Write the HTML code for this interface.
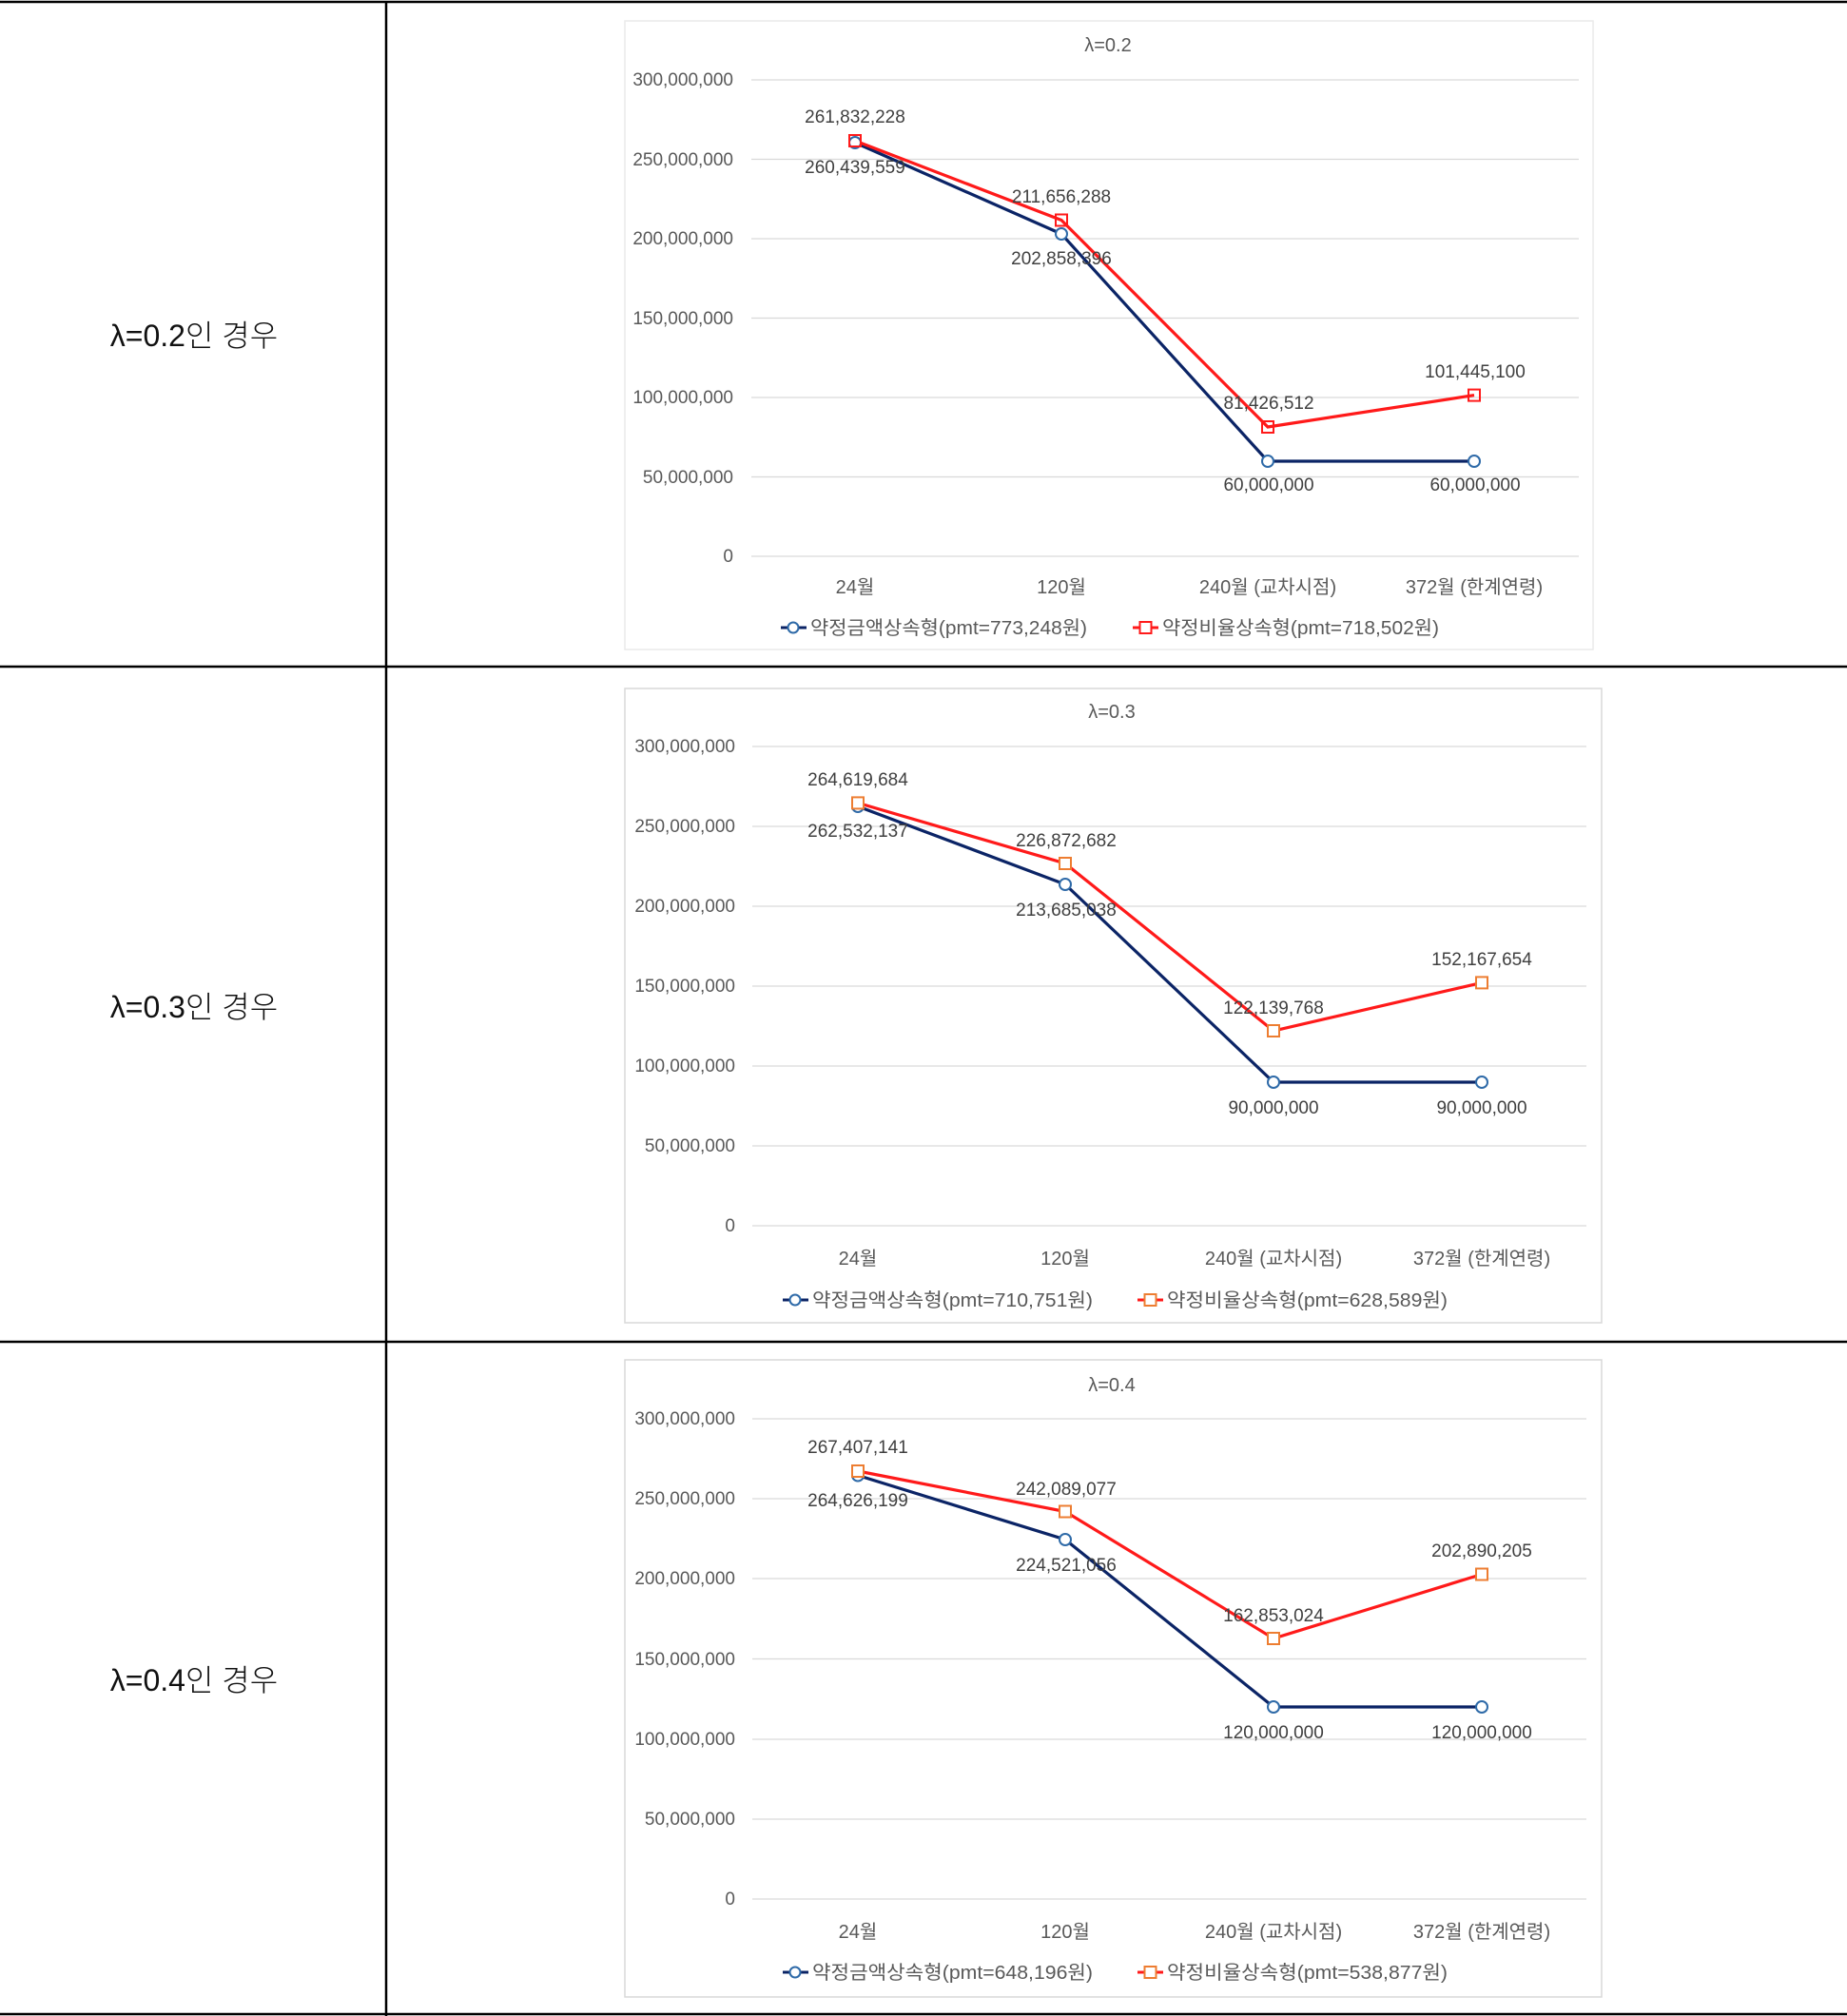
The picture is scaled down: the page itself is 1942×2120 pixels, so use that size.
<!DOCTYPE html>
<html><head><meta charset="utf-8"><style>
html,body{margin:0;padding:0;background:#fff}
svg{display:block}
text{font-family:"Liberation Sans","Noto Sans CJK KR",sans-serif}
.tk{font-size:19px;fill:#595959;text-anchor:end}
.dl{font-size:19px;fill:#404040;text-anchor:middle}
.ct{font-size:20px;fill:#595959;text-anchor:middle}
.lg{font-size:20px;fill:#595959}
.lab{font-size:32px;fill:#111;text-anchor:middle;font-weight:300}
.g{stroke:#d9d9d9;stroke-width:1.3}
</style></head><body>
<svg width="1942" height="2120" viewBox="0 0 1942 2120" xmlns="http://www.w3.org/2000/svg">
<!-- table -->
<g stroke="#000" stroke-width="2.5">
<line x1="0" y1="2" x2="1942" y2="2"/>
<line x1="0" y1="701" x2="1942" y2="701"/>
<line x1="0" y1="1411" x2="1942" y2="1411"/>
<line x1="0" y1="2118" x2="1942" y2="2118"/>
<line x1="406" y1="2" x2="406" y2="2120"/>
</g>
<text class="lab" x="204" y="364">λ=0.2인 경우</text>
<text class="lab" x="204" y="1070">λ=0.3인 경우</text>
<text class="lab" x="204" y="1778">λ=0.4인 경우</text>

<!-- chart 1 -->
<rect x="657" y="22" width="1018" height="661" fill="none" stroke="#eaeaea" stroke-width="1.5"/>
<text class="ct" x="1165" y="54">λ=0.2</text>
<g class="g">
<line x1="790" y1="84" x2="1660" y2="84"/><line x1="790" y1="167.5" x2="1660" y2="167.5"/>
<line x1="790" y1="251" x2="1660" y2="251"/><line x1="790" y1="334.5" x2="1660" y2="334.5"/>
<line x1="790" y1="418" x2="1660" y2="418"/><line x1="790" y1="501.5" x2="1660" y2="501.5"/>
<line x1="790" y1="585" x2="1660" y2="585"/></g>
<g class="tk">
<text x="771" y="90">300,000,000</text><text x="771" y="174">250,000,000</text>
<text x="771" y="257">200,000,000</text><text x="771" y="341">150,000,000</text>
<text x="771" y="424">100,000,000</text><text x="771" y="508">50,000,000</text>
<text x="771" y="591">0</text></g>
<g class="ct"><text x="899" y="624">24월</text><text x="1116" y="624">120월</text><text x="1333" y="624">240월 (교차시점)</text><text x="1550" y="624">372월 (한계연령)</text></g>
<polyline points="899,150 1116,246 1333,485 1550,485" fill="none" stroke="#0b2466" stroke-width="3.2"/>
<polyline points="899,148 1116,231.5 1333,449 1550,415.6" fill="none" stroke="#ff1a1a" stroke-width="3.2"/>
<g fill="#fff" stroke="#2e6aa8" stroke-width="2"><circle cx="899" cy="150" r="6"/><circle cx="1116" cy="246" r="6"/><circle cx="1333" cy="485" r="6"/><circle cx="1550" cy="485" r="6"/></g>
<g fill="none" stroke="#ff1a1a" stroke-width="2"><rect x="893" y="142" width="12" height="12"/><rect x="1110" y="225.5" width="12" height="12"/><rect x="1327" y="443" width="12" height="12"/><rect x="1544" y="409.6" width="12" height="12"/></g>
<g class="dl">
<text x="899" y="129">261,832,228</text><text x="899" y="182">260,439,559</text>
<text x="1116" y="213">211,656,288</text><text x="1116" y="278">202,858,396</text>
<text x="1334" y="430">81,426,512</text><text x="1334" y="516">60,000,000</text>
<text x="1551" y="397">101,445,100</text><text x="1551" y="516">60,000,000</text></g>
<line x1="821" y1="660" x2="848" y2="660" stroke="#0b2466" stroke-width="3"/><circle cx="834" cy="660" r="5.5" fill="#fff" stroke="#2e6aa8" stroke-width="2"/>
<text class="lg" x="852" y="667" textLength="291" lengthAdjust="spacingAndGlyphs">약정금액상속형(pmt=773,248원)</text>
<line x1="1191" y1="660" x2="1218" y2="660" stroke="#ff1a1a" stroke-width="3"/><rect x="1198.5" y="654" width="12" height="12" fill="#fff" stroke="#ff1a1a" stroke-width="2"/>
<text class="lg" x="1222" y="667" textLength="291" lengthAdjust="spacingAndGlyphs">약정비율상속형(pmt=718,502원)</text>

<!-- chart 2 -->
<rect x="657" y="724" width="1027" height="667" fill="none" stroke="#d9d9d9" stroke-width="1.5"/>
<text class="ct" x="1169" y="755">λ=0.3</text>
<g class="g">
<line x1="791" y1="785" x2="1668" y2="785"/><line x1="791" y1="869" x2="1668" y2="869"/>
<line x1="791" y1="953" x2="1668" y2="953"/><line x1="791" y1="1037" x2="1668" y2="1037"/>
<line x1="791" y1="1121" x2="1668" y2="1121"/><line x1="791" y1="1205" x2="1668" y2="1205"/>
<line x1="791" y1="1289" x2="1668" y2="1289"/></g>
<g class="tk">
<text x="773" y="791">300,000,000</text><text x="773" y="875">250,000,000</text>
<text x="773" y="959">200,000,000</text><text x="773" y="1043">150,000,000</text>
<text x="773" y="1127">100,000,000</text><text x="773" y="1211">50,000,000</text>
<text x="773" y="1295">0</text></g>
<g class="ct"><text x="902" y="1330">24월</text><text x="1120" y="1330">120월</text><text x="1339" y="1330">240월 (교차시점)</text><text x="1558" y="1330">372월 (한계연령)</text></g>
<polyline points="902,848 1120,930 1339,1138 1558,1138" fill="none" stroke="#0b2466" stroke-width="3.2"/>
<polyline points="902,844.4 1120,908 1339,1084 1558,1033.4" fill="none" stroke="#ff1a1a" stroke-width="3.2"/>
<g fill="#fff" stroke="#2e6aa8" stroke-width="2"><circle cx="902" cy="848" r="6"/><circle cx="1120" cy="930" r="6"/><circle cx="1339" cy="1138" r="6"/><circle cx="1558" cy="1138" r="6"/></g>
<g fill="#fff" stroke="#ed7d31" stroke-width="2"><rect x="896" y="838.4" width="12" height="12"/><rect x="1114" y="902" width="12" height="12"/><rect x="1333" y="1078" width="12" height="12"/><rect x="1552" y="1027.4" width="12" height="12"/></g>
<g class="dl">
<text x="902" y="826">264,619,684</text><text x="902" y="880">262,532,137</text>
<text x="1121" y="890">226,872,682</text><text x="1121" y="963">213,685,038</text>
<text x="1339" y="1066">122,139,768</text><text x="1339" y="1171">90,000,000</text>
<text x="1558" y="1015">152,167,654</text><text x="1558" y="1171">90,000,000</text></g>
<line x1="823" y1="1367" x2="850" y2="1367" stroke="#0b2466" stroke-width="3"/><circle cx="836" cy="1367" r="5.5" fill="#fff" stroke="#2e6aa8" stroke-width="2"/>
<text class="lg" x="854" y="1374" textLength="295" lengthAdjust="spacingAndGlyphs">약정금액상속형(pmt=710,751원)</text>
<line x1="1196" y1="1367" x2="1223" y2="1367" stroke="#ff1a1a" stroke-width="3"/><rect x="1203.5" y="1361" width="12" height="12" fill="#fff" stroke="#ed7d31" stroke-width="2"/>
<text class="lg" x="1227" y="1374" textLength="295" lengthAdjust="spacingAndGlyphs">약정비율상속형(pmt=628,589원)</text>

<!-- chart 3 -->
<rect x="657" y="1430" width="1027" height="670" fill="none" stroke="#d9d9d9" stroke-width="1.5"/>
<text class="ct" x="1169" y="1463">λ=0.4</text>
<g class="g">
<line x1="791" y1="1492" x2="1668" y2="1492"/><line x1="791" y1="1576" x2="1668" y2="1576"/>
<line x1="791" y1="1660" x2="1668" y2="1660"/><line x1="791" y1="1744.5" x2="1668" y2="1744.5"/>
<line x1="791" y1="1829" x2="1668" y2="1829"/><line x1="791" y1="1913" x2="1668" y2="1913"/>
<line x1="791" y1="1997" x2="1668" y2="1997"/></g>
<g class="tk">
<text x="773" y="1498">300,000,000</text><text x="773" y="1582">250,000,000</text>
<text x="773" y="1666">200,000,000</text><text x="773" y="1751">150,000,000</text>
<text x="773" y="1835">100,000,000</text><text x="773" y="1919">50,000,000</text>
<text x="773" y="2003">0</text></g>
<g class="ct"><text x="902" y="2038">24월</text><text x="1120" y="2038">120월</text><text x="1339" y="2038">240월 (교차시점)</text><text x="1558" y="2038">372월 (한계연령)</text></g>
<polyline points="902,1551.5 1120,1619 1339,1795 1558,1795" fill="none" stroke="#0b2466" stroke-width="3.2"/>
<polyline points="902,1547 1120,1589.5 1339,1723 1558,1655.5" fill="none" stroke="#ff1a1a" stroke-width="3.2"/>
<g fill="#fff" stroke="#2e6aa8" stroke-width="2"><circle cx="902" cy="1551.5" r="6"/><circle cx="1120" cy="1619" r="6"/><circle cx="1339" cy="1795" r="6"/><circle cx="1558" cy="1795" r="6"/></g>
<g fill="#fff" stroke="#ed7d31" stroke-width="2"><rect x="896" y="1541" width="12" height="12"/><rect x="1114" y="1583.5" width="12" height="12"/><rect x="1333" y="1717" width="12" height="12"/><rect x="1552" y="1649.5" width="12" height="12"/></g>
<g class="dl">
<text x="902" y="1528">267,407,141</text><text x="902" y="1584">264,626,199</text>
<text x="1121" y="1572">242,089,077</text><text x="1121" y="1652">224,521,056</text>
<text x="1339" y="1705">162,853,024</text><text x="1339" y="1828">120,000,000</text>
<text x="1558" y="1637">202,890,205</text><text x="1558" y="1828">120,000,000</text></g>
<line x1="823" y1="2074" x2="850" y2="2074" stroke="#0b2466" stroke-width="3"/><circle cx="836" cy="2074" r="5.5" fill="#fff" stroke="#2e6aa8" stroke-width="2"/>
<text class="lg" x="854" y="2081" textLength="295" lengthAdjust="spacingAndGlyphs">약정금액상속형(pmt=648,196원)</text>
<line x1="1196" y1="2074" x2="1223" y2="2074" stroke="#ff1a1a" stroke-width="3"/><rect x="1203.5" y="2068" width="12" height="12" fill="#fff" stroke="#ed7d31" stroke-width="2"/>
<text class="lg" x="1227" y="2081" textLength="295" lengthAdjust="spacingAndGlyphs">약정비율상속형(pmt=538,877원)</text>
</svg>
</body></html>
